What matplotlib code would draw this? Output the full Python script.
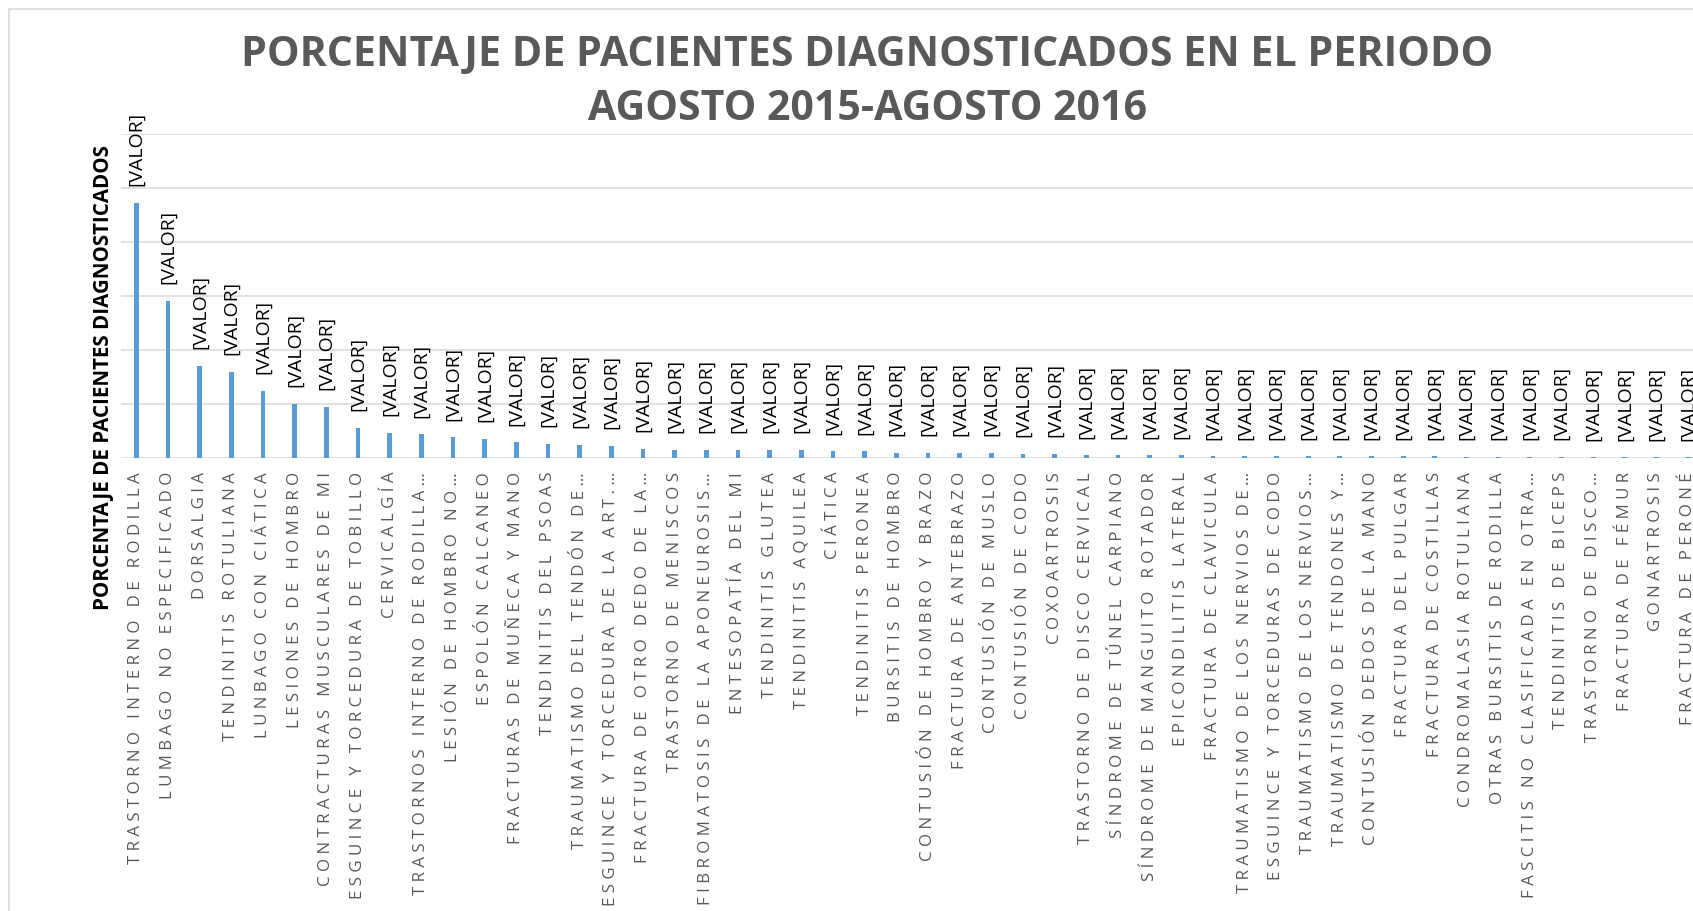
import matplotlib
matplotlib.use('Agg')
import matplotlib.pyplot as plt
from matplotlib.patches import Rectangle

# Categories (diagnoses), in the order shown in the chart
# (long names are cut with an ellipsis, as in the original)
categorias = [
    'TRASTORNO INTERNO DE RODILLA',
    'LUMBAGO NO ESPECIFICADO',
    'DORSALGIA',
    'TENDINITIS ROTULIANA',
    'LUNBAGO CON CIÁTICA',
    'LESIONES DE HOMBRO',
    'CONTRACTURAS MUSCULARES DE MI',
    'ESGUINCE Y TORCEDURA DE TOBILLO',
    'CERVICALGÍA',
    'TRASTORNOS INTERNO DE RODILLA…',
    'LESIÓN DE HOMBRO NO…',
    'ESPOLÓN CALCANEO',
    'FRACTURAS DE MUÑECA Y MANO',
    'TENDINITIS DEL PSOAS',
    'TRAUMATISMO DEL TENDÓN DE…',
    'ESGUINCE Y TORCEDURA DE LA ART.…',
    'FRACTURA DE OTRO DEDO DE LA…',
    'TRASTORNO DE MENISCOS',
    'FIBROMATOSIS DE LA APONEUROSIS…',
    'ENTESOPATÍA DEL MI',
    'TENDINITIS GLUTEA',
    'TENDINITIS AQUILEA',
    'CIÁTICA',
    'TENDINITIS PERONEA',
    'BURSITIS DE HOMBRO',
    'CONTUSIÓN DE HOMBRO Y BRAZO',
    'FRACTURA DE ANTEBRAZO',
    'CONTUSIÓN DE MUSLO',
    'CONTUSIÓN DE CODO',
    'COXOARTROSIS',
    'TRASTORNO DE DISCO CERVICAL',
    'SÍNDROME DE TÚNEL CARPIANO',
    'SÍNDROME DE MANGUITO ROTADOR',
    'EPICONDILITIS LATERAL',
    'FRACTURA DE CLAVICULA',
    'TRAUMATISMO DE LOS NERVIOS DE…',
    'ESGUINCE Y TORCEDURAS DE CODO',
    'TRAUMATISMO DE LOS NERVIOS…',
    'TRAUMATISMO DE TENDONES Y…',
    'CONTUSIÓN DEDOS DE LA MANO',
    'FRACTURA DEL PULGAR',
    'FRACTURA DE COSTILLAS',
    'CONDROMALASIA ROTULIANA',
    'OTRAS BURSITIS DE RODILLA',
    'FASCITIS NO CLASIFICADA EN OTRA…',
    'TENDINITIS DE BICEPS',
    'TRASTORNO DE DISCO…',
    'FRACTURA DE FÉMUR',
    'GONARTROSIS',
    'FRACTURA DE PERONÉ',
]

# Percentage of patients (gridlines every 5 %)
porcentajes = [
    23.6, 14.55, 8.55, 7.95, 6.2, 5.0, 4.75, 2.8, 2.3, 2.2,
    1.9, 1.8, 1.45, 1.3, 1.2, 1.14, 0.86, 0.74, 0.74, 0.74,
    0.74, 0.74, 0.62, 0.62, 0.49, 0.45, 0.45, 0.45, 0.37, 0.37,
    0.25, 0.25, 0.25, 0.25, 0.15, 0.15, 0.15, 0.15, 0.15, 0.15,
    0.15, 0.15, 0.1, 0.1, 0.1, 0.1, 0.05, 0.05, 0.05, 0.05,
]

etiqueta_dato = '[VALOR]'
titulo_1 = 'PORCENTAJE DE PACIENTES DIAGNOSTICADOS EN EL PERIODO'
titulo_2 = 'AGOSTO 2015-AGOSTO 2016'
titulo_y = 'PORCENTAJE DE PACIENTES DIAGNOSTICADOS'
ticks_y = [0, 5, 10, 15, 20, 25, 30]

W, H = 1693, 911
plt.rcParams['font.family'] = ['Open Sans', 'DejaVu Sans']

fig = plt.figure(figsize=(W / 100, H / 100), dpi=100)

# chart area border (only left and top edges are inside the picture)
fig.add_artist(Rectangle((9 / W, -0.2), 2, 1.2 - 9 / H, transform=fig.transFigure,
                         fill=False, edgecolor='#D9D9D9', linewidth=1.2))

# plot area extends past the right edge of the picture
left, right, top, bottom = 120.5, 120.5 + 50 * 31.67, 134, 458
ax = fig.add_axes([left / W, 1 - bottom / H, (right - left) / W, (bottom - top) / H])

x = list(range(len(categorias)))
ax.bar(x, porcentajes, width=0.15, color='#5B9BD5', zorder=3)

# data labels
for i, v in zip(x, porcentajes):
    ax.annotate(etiqueta_dato, (i, v), xytext=(0, 12), textcoords='offset points',
                rotation=90, ha='center', va='bottom', fontsize=14, color='black',
                annotation_clip=False)

ax.set_xlim(-0.5, len(categorias) - 0.5)
ax.set_ylim(0, 30)
ax.set_yticks(ticks_y)
ax.set_yticklabels([])
ax.tick_params(axis='y', length=0)
ax.grid(axis='y', color='#D9D9D9', linewidth=1.1)
ax.set_axisbelow(True)
for s in ax.spines.values():
    s.set_visible(False)

# category labels with wide letter spacing, as in the original
espaciadas = [' '.join(list(c)) for c in categorias]
ax.set_xticks(x)
ax.set_xticklabels(espaciadas, rotation=90, fontsize=12.2, color='#595959')
ax.tick_params(axis='x', length=0, pad=10)

# titles
fig.text(867 / W, 1 - 55 / H, titulo_1, ha='center', va='center',
         fontsize=29.6, fontweight='bold', color='#595959')
fig.text(867 / W, 1 - 109 / H, titulo_2, ha='center', va='center',
         fontsize=29.6, fontweight='bold', color='#595959')
fig.text(104 / W, 1 - 378 / H, titulo_y, ha='center', va='center', rotation=90,
         fontsize=14.8, fontweight='bold', color='black')

fig.savefig('out.png', dpi=100)
